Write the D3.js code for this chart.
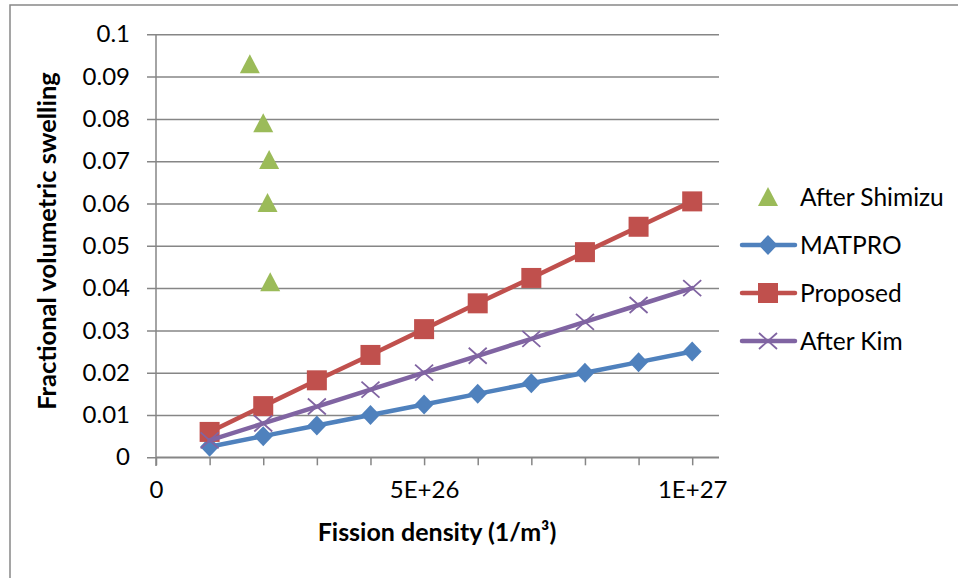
<!DOCTYPE html>
<html><head><meta charset="utf-8">
<script src="https://cdn.jsdelivr.net/npm/d3@7/dist/d3.min.js"></script>
<style>body{margin:0;background:#fff}svg{display:block}</style>
</head><body>
<svg id="c" width="958" height="578"></svg>
<script>
const fissionDensity = [1e26,2e26,3e26,4e26,5e26,6e26,7e26,8e26,9e26,1e27];
const matpro   = [0.0025,0.005,0.0075,0.01,0.0125,0.015,0.0175,0.02,0.0225,0.025];
const proposed = [0.006,0.0121,0.0182,0.0242,0.0303,0.0364,0.0424,0.0485,0.0545,0.0605];
const afterKim = [0.004,0.008,0.012,0.016,0.02,0.024,0.028,0.032,0.036,0.04];
const shimizuX = [1.75e26,2.0e26,2.11e26,2.08e26,2.13e26];
const shimizuY = [0.0929,0.079,0.0703,0.0601,0.0414];
const yTicks = [0,0.01,0.02,0.03,0.04,0.05,0.06,0.07,0.08,0.09,0.1];
const yTickLabels = ["0","0.01","0.02","0.03","0.04","0.05","0.06","0.07","0.08","0.09","0.1"];
const xTicks = [0,1e26,2e26,3e26,4e26,5e26,6e26,7e26,8e26,9e26,1e27];
const xTickLabels = {0:"0",5e26:"5E+26",1e27:"1E+27"};
const legendNames = ["After Shimizu","MATPRO","Proposed","After Kim"];
const colors = {shimizu:"#9BBB59",matpro:"#4F81BD",proposed:"#C0504D",kim:"#8064A2"};

const svg = d3.select("#c");
const FONT = "Lato, 'Open Sans', sans-serif";
const x = d3.scaleLinear().domain([0,1.05e27]).range([156,719]);
const y = d3.scaleLinear().domain([0,0.1]).range([457.3,34.3]);

// outer border
svg.append("rect").attr("x",10).attr("y",5).attr("width",1000).attr("height",1000)
  .attr("fill","none").attr("stroke","#888").attr("stroke-width",1.5);

// gridlines + y axis
const yAxis = d3.axisLeft(y).tickValues(yTicks).tickSize(9).tickPadding(17)
  .tickFormat((d,i)=>yTickLabels[i]);
const gy = svg.append("g").attr("transform","translate(156,0)").call(yAxis);
gy.select(".domain").remove();
gy.selectAll(".tick line").attr("stroke","#868686").attr("stroke-width",1.5)
  .attr("x1",-9).attr("x2",719-156);
gy.selectAll(".tick text").attr("font-family",FONT).attr("font-size",24).attr("fill","#000");
svg.append("line").attr("x1",156).attr("x2",156).attr("y1",34.3).attr("y2",466)
  .attr("stroke","#868686").attr("stroke-width",1.5);

// x axis
const xAxis = d3.axisBottom(x).tickValues(xTicks).tickSize(8).tickPadding(16)
  .tickFormat(d=>xTickLabels[d]||"");
const gx = svg.append("g").attr("transform","translate(0,457.3)").call(xAxis);
gx.select(".domain").attr("stroke","#868686").attr("stroke-width",1.5).attr("d","M156,0H719");
gx.selectAll(".tick line").attr("stroke","#868686").attr("stroke-width",1.5);
gx.selectAll(".tick text").attr("font-family",FONT).attr("font-size",24).attr("fill","#000");

// series
const line = d3.line().x(d=>x(d[0])).y(d=>y(d[1]));
function series(vals,color,marker){
  const pts = fissionDensity.map((f,i)=>[f,vals[i]]);
  svg.append("path").datum(pts).attr("d",line).attr("fill","none")
    .attr("stroke",color).attr("stroke-width",4.5).attr("stroke-linejoin","round").attr("stroke-linecap","round");
  const g = svg.append("g");
  pts.forEach(p=>drawMarker(g,marker,x(p[0]),y(p[1]),color));
}
function drawMarker(g,type,cx,cy,color){
  if(type==="square"){
    g.append("rect").attr("x",cx-10).attr("y",cy-10).attr("width",20).attr("height",20).attr("fill",color);
  } else if(type==="diamond"){
    g.append("path").attr("d",`M${cx},${cy-10}L${cx+9.5},${cy}L${cx},${cy+10}L${cx-9.5},${cy}Z`).attr("fill",color);
  } else if(type==="x"){
    g.append("path").attr("d",`M${cx-9},${cy-8}L${cx+9},${cy+8}M${cx-9},${cy+8}L${cx+9},${cy-8}`)
      .attr("stroke",color).attr("stroke-width",1.8).attr("fill","none");
  } else if(type==="triangle"){
    g.append("path").attr("d",`M${cx},${cy-10}L${cx+10},${cy+9}L${cx-10},${cy+9}Z`).attr("fill",color);
  }
}
series(matpro,colors.matpro,"diamond");
series(proposed,colors.proposed,"square");
series(afterKim,colors.kim,"x");
const gs = svg.append("g");
shimizuX.forEach((sx,i)=>drawMarker(gs,"triangle",x(sx),y(shimizuY[i]),colors.shimizu));

// legend
const legend = [
  {name:legendNames[0],color:colors.shimizu,marker:"triangle",line:false,y:197},
  {name:legendNames[1],color:colors.matpro,marker:"diamond",line:true,y:245},
  {name:legendNames[2],color:colors.proposed,marker:"square",line:true,y:293},
  {name:legendNames[3],color:colors.kim,marker:"x",line:true,y:341}
];
const lg = svg.append("g");
legend.forEach(l=>{
  if(l.line) lg.append("line").attr("x1",742).attr("x2",795).attr("y1",l.y).attr("y2",l.y)
    .attr("stroke",l.color).attr("stroke-width",4.5).attr("stroke-linecap","round");
  drawMarker(lg,l.marker,768,l.y,l.color);
  lg.append("text").attr("x",800).attr("y",l.y).attr("dy","0.35em").text(l.name)
    .attr("font-family",FONT).attr("font-size",24.5).attr("fill","#000");
});

// titles
svg.append("text").attr("transform","translate(56,241) rotate(-90)").attr("text-anchor","middle")
  .attr("font-family",FONT).attr("font-size",25.5).attr("font-weight","bold").text("Fractional volumetric swelling");
svg.append("text").attr("x",437).attr("y",541).attr("text-anchor","middle")
  .attr("font-family",FONT).attr("font-size",25).attr("font-weight","bold").text("Fission density (1/m³)");
</script>
</body></html>
